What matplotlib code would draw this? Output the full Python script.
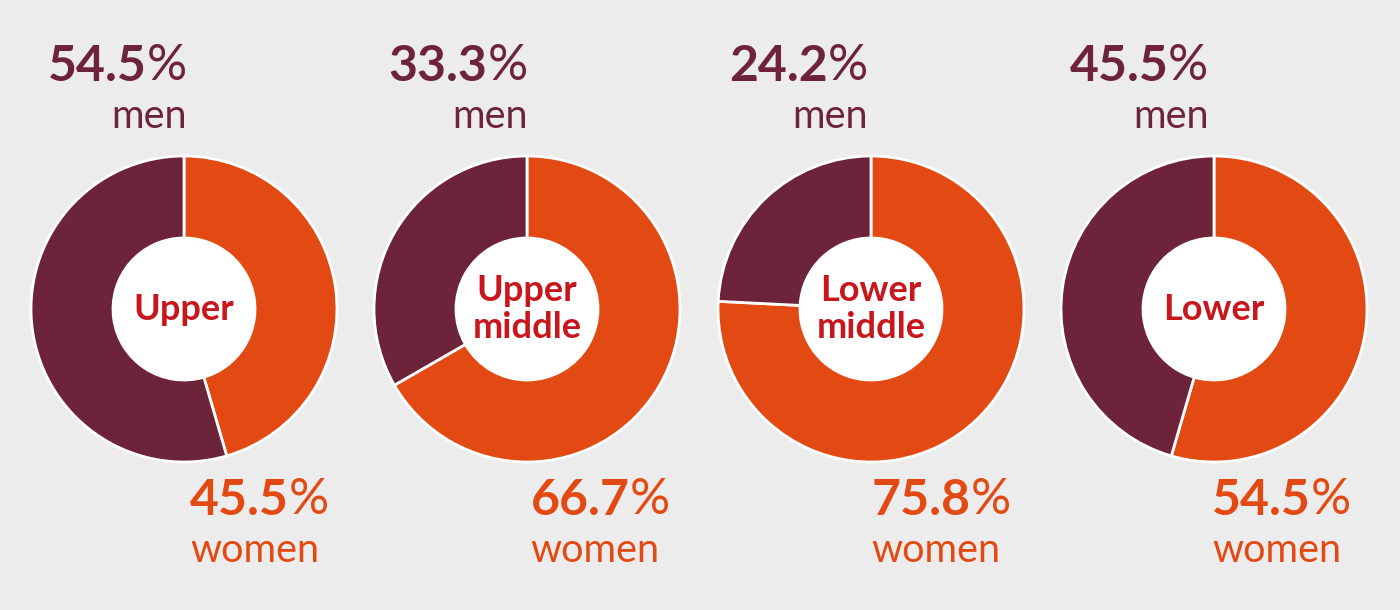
import matplotlib
matplotlib.use("Agg")
import matplotlib.pyplot as plt

categories = ["Upper", "Upper\nmiddle", "Lower\nmiddle", "Lower"]
men_pct = [54.5, 33.3, 24.2, 45.5]
women_pct = [45.5, 66.7, 75.8, 54.5]
men_label = "men"
women_label = "women"

BG = "#ececec"
MAROON = "#6d2339"
ORANGE = "#e34a13"
RED = "#c8161d"

W, H = 1400, 610
fig = plt.figure(figsize=(14, 6.1), dpi=100, facecolor=BG)
ax = fig.add_axes([0, 0, 1, 1])
ax.set_xlim(0, W)
ax.set_ylim(0, H)
ax.set_aspect("equal")
ax.axis("off")
ax.set_facecolor(BG)

centers_x = [184, 527, 871, 1214]
cy = H - 309
R = 153
hole = 71
PCT_FS = 36
WORD_FS = 28.5

for i, cat in enumerate(categories):
    cx = centers_x[i]
    ax.pie([women_pct[i], men_pct[i]], colors=[ORANGE, MAROON], startangle=90,
           counterclock=False, center=(cx, cy), radius=R,
           wedgeprops=dict(width=R - hole, edgecolor="white", linewidth=2))
    circ = plt.Circle((cx, cy), hole, color="white", zorder=3)
    ax.add_patch(circ)
    ax.text(cx, cy, cat, ha="center", va="center", fontsize=26,
            fontweight="bold", family="Lato", color=RED, zorder=4,
            linespacing=1.12)

    mx = 187 + i * 340.5
    wx = 190 + i * 340.7
    # men percentage: bold number + regular percent sign, right aligned
    tp = ax.text(mx, H - 80, "%", ha="right", va="baseline",
                 fontsize=PCT_FS, family="Lato", color=MAROON)
    ax.annotate(f"{men_pct[i]:.1f}", xy=(0, 0), xycoords=tp, ha="right",
                va="bottom", fontsize=PCT_FS, fontweight="bold", family="Lato",
                color=MAROON)
    ax.text(mx, H - 128, men_label, ha="right", va="baseline",
            fontsize=WORD_FS, family="Lato", color=MAROON)
    # women percentage, left aligned
    tn = ax.text(wx, H - 515, f"{women_pct[i]:.1f}", ha="left", va="baseline",
                 fontsize=PCT_FS, fontweight="bold", family="Lato", color=ORANGE)
    ax.annotate("%", xy=(1, 0), xycoords=tn, ha="left", va="bottom",
                fontsize=PCT_FS, family="Lato", color=ORANGE)
    ax.text(wx, H - 562, women_label, ha="left", va="baseline",
            fontsize=WORD_FS, family="Lato", color=ORANGE)

ax.set_xlim(0, W)
ax.set_ylim(0, H)
fig.savefig("out.png", dpi=100, facecolor=BG)
